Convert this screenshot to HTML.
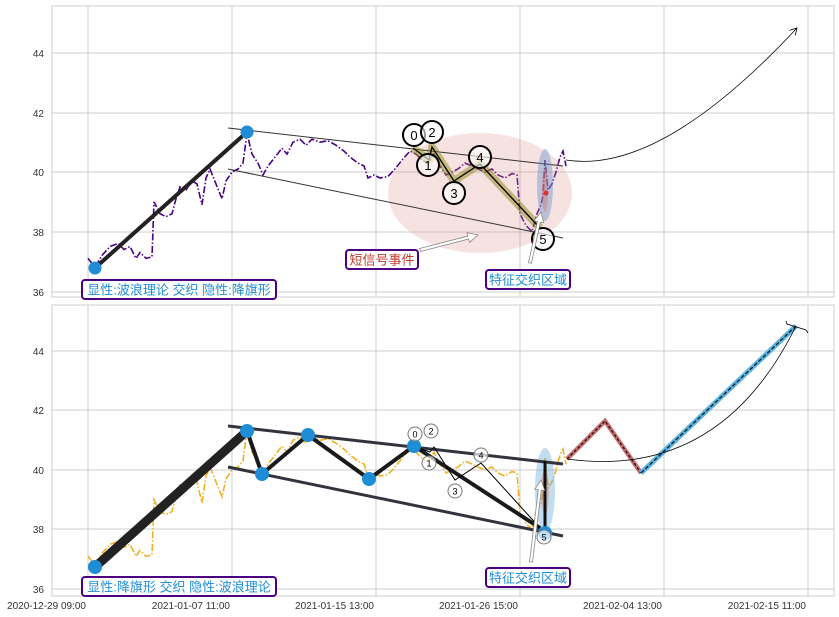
<!DOCTYPE html>
<html><head><meta charset="utf-8"><style>
html,body{margin:0;padding:0;background:#fff;}
svg{display:block;font-family:"Liberation Sans","Noto Sans CJK SC",sans-serif;}
</style></head><body>
<svg id="s" width="839" height="617" viewBox="0 0 839 617" xmlns="http://www.w3.org/2000/svg">
<defs>
<marker id="ah" markerWidth="8" markerHeight="8" refX="7" refY="4" orient="auto" markerUnits="userSpaceOnUse"><path d="M0,0 L7,4 L0,8" fill="none" stroke="#000" stroke-width="0.8"/></marker>
</defs>
<rect width="839" height="617" fill="#fff"/>
<g id="g"></g>
</svg>
<script>
var g=document.getElementById('g');var h='';
function P(x0,y0,x1,y1){return x0+','+y0+' '+x1+','+y1;}
// panels
var panels=[{t:6,b:297,ys:{44:53,42:113,40:172,38:232,36:292}},{t:305,b:596,ys:{44:351,42:410,40:470,38:529,36:589}}];
var gx=[88,232,376,520,664,808];
panels.forEach(function(p){
 h+='<rect x="52" y="'+p.t+'" width="782" height="'+(p.b-p.t)+'" fill="#fff" stroke="#ccc" stroke-width="1"/>';
 gx.forEach(function(x){h+='<line x1="'+x+'" y1="'+p.t+'" x2="'+x+'" y2="'+p.b+'" stroke="#ccc" stroke-width="1"/>';});
 for(var k in p.ys){h+='<line x1="52" y1="'+p.ys[k]+'" x2="834" y2="'+p.ys[k]+'" stroke="#ccc" stroke-width="1"/>';
 h+='<text x="44" y="'+(p.ys[k]+4)+'" font-size="10" text-anchor="end" fill="#333">'+k+'</text>';}
});
var labs=["2020-12-29 09:00","2021-01-07 11:00","2021-01-15 13:00","2021-01-26 15:00","2021-02-04 13:00","2021-02-15 11:00"];
gx.forEach(function(x,i){h+='<text x="'+(x-2)+'" y="609" font-size="10" text-anchor="end" fill="#333">'+labs[i]+'</text>';});
var d=[[88,37.1],[95,36.8],[102,37.2],[110,37.5],[118,37.6],[124,37.4],[130,37.5],[136,37.1],[140,37.3],[146,37.1],[152,37.15],[154,39.0],[160,38.6],[166,38.5],[172,38.6],[176,39.1],[180,39.5],[186,39.4],[192,39.7],[197,39.6],[202,38.9],[206,39.8],[210,40.1],[216,39.6],[222,39.1],[226,39.7],[232,40.0],[238,40.1],[243,40.3],[247,41.3],[252,40.6],[258,40.3],[263,39.9],[268,40.2],[275,40.5],[282,40.8],[287,40.6],[293,41.0],[300,41.1],[306,40.9],[312,41.1],[320,41.0],[328,41.05],[336,40.9],[344,40.7],[350,40.5],[358,40.3],[364,40.2],[368,39.8],[374,39.9],[380,39.8],[388,39.85],[395,40.1],[402,40.4],[410,40.7],[416,40.6],[422,40.4],[428,40.3],[434,40.6],[440,40.2],[446,39.9],[452,40.0],[458,40.1],[465,40.3],[472,40.2],[478,40.1],[485,40.0],[492,40.1],[498,39.9],[505,39.8],[512,39.95],[517,39.9],[520,38.6],[526,38.2],[532,38.0],[537,38.6],[541,38.9],[543,39.2],[545,40.4],[548,39.4],[552,39.6],[556,40.0],[560,40.5],[563,40.7],[566,40.2]];
function ln(arr,f,st){var s=arr.map(function(q){return q[0]+','+f(q[1]).toFixed(1);}).join(' ');return '<polyline points="'+s+'" fill="none" '+st+'/>';}
var ft=function(v){return 172-(v-40)*29.8;}, fb=function(v){return 470-(v-40)*29.75;};
h+=ln(d,ft,'stroke="#4b0082" stroke-width="1.6" stroke-dasharray="7,2,1.5,2"');
h+=ln(d,fb,'stroke="#f0b020" stroke-width="1.6" stroke-dasharray="7,2,1.5,2"');
// TOP
h+='<ellipse cx="480" cy="193" rx="92" ry="60" fill="rgba(225,140,140,0.25)"/>';
h+='<line x1="228" y1="128" x2="563" y2="166" stroke="#333" stroke-width="1"/>';
h+='<line x1="228" y1="169" x2="563" y2="238" stroke="#333" stroke-width="1"/>';
h+='<line x1="95" y1="268" x2="247" y2="132" stroke="#222" stroke-width="4"/>';
h+='<circle cx="95" cy="268" r="6.5" fill="#1f8dd6"/><circle cx="247" cy="132" r="6.5" fill="#1f8dd6"/>';
var w='413,148 429,160 432,147 454,181 480,164 540,228';
h+='<polyline points="'+w+'" fill="none" stroke="rgba(128,128,0,0.45)" stroke-width="8" stroke-linejoin="round"/>';
h+='<polyline points="'+w+'" fill="none" stroke="#000" stroke-width="1.3"/>';
h+='<ellipse cx="545" cy="185" rx="8" ry="36" fill="rgba(90,140,200,0.4)"/><ellipse cx="545" cy="190" rx="3" ry="22" fill="rgba(220,100,80,0.35)"/><circle cx="546" cy="193" r="2.5" fill="#e03030"/>';
[[414,135,'0'],[432,132,'2'],[428,165,'1'],[454,193,'3'],[480,157,'4'],[543,239,'5']].forEach(function(c){
 h+='<circle cx="'+c[0]+'" cy="'+c[1]+'" r="11" fill="#fff" fill-opacity="0.6" stroke="#000" stroke-width="2"/><text x="'+c[0]+'" y="'+(c[1]+5)+'" font-size="13" text-anchor="middle">'+c[2]+'</text>';});
function arrow(x0,y0,x1,y1){var a=Math.atan2(y1-y0,x1-x0),L=Math.hypot(x1-x0,y1-y0);
 return '<g transform="translate('+x0+','+y0+') rotate('+(a*180/Math.PI)+')"><path d="M0,-1.5 L'+(L-10)+',-1.5 L'+(L-10)+',-5 L'+L+',0 L'+(L-10)+',5 L'+(L-10)+',1.5 L0,1.5Z" fill="#fff" stroke="#888" stroke-width="0.8"/></g>';}
h+=arrow(420,250,478,235);h+=arrow(530,263,541,212);
h+='<path d="M566,160 Q660,175 797,28" fill="none" stroke="#000" stroke-width="0.8" marker-end="url(#ah)"/>';
function box(x,y,w,t,c){return '<rect x="'+x+'" y="'+y+'" width="'+w+'" height="19" rx="3" fill="#fff" stroke="#4b0082" stroke-width="2"/><text x="'+(x+w/2)+'" y="'+(y+14.5)+'" font-size="13" text-anchor="middle" fill="'+c+'">'+t+'</text>';}
h+=box(82,280,194,'显性:波浪理论 交织 隐性:降旗形','#1f8dd6');
h+=box(346,250,72,'短信号事件','#c0392b');
h+=box(486,270,84,'特征交织区域','#1f8dd6');
// BOTTOM
h+='<ellipse cx="545" cy="490" rx="10" ry="42" fill="rgba(100,170,220,0.4)"/><ellipse cx="545" cy="492" rx="4" ry="22" fill="rgba(220,110,80,0.35)"/>';
h+='<line x1="228" y1="426" x2="563" y2="464" stroke="#333340" stroke-width="3"/>';
h+='<line x1="228" y1="467" x2="563" y2="536" stroke="#333340" stroke-width="3"/>';
h+='<line x1="95" y1="567" x2="247" y2="431" stroke="#222" stroke-width="9"/>';
h+='<polyline points="247,431 262,474 308,435 369,479 414,446 540,528" fill="none" stroke="#1a1a1a" stroke-width="4" stroke-linejoin="round"/>';
h+='<line x1="545" y1="533" x2="545" y2="461" stroke="#111" stroke-width="3"/>';
h+='<polyline points="415,447 430,452 434,447 455,480 481,463 540,528" fill="none" stroke="#000" stroke-width="1"/>';
[[95,567],[247,431],[262,474],[308,435],[369,479],[414,446],[545,533]].forEach(function(c){h+='<circle cx="'+c[0]+'" cy="'+c[1]+'" r="7" fill="#1f8dd6"/>';});
[[415,434,'0'],[431,431,'2'],[429,463,'1'],[455,491,'3'],[481,455,'4'],[544,537,'5']].forEach(function(c){
 h+='<circle cx="'+c[0]+'" cy="'+c[1]+'" r="7" fill="#fff" fill-opacity="0.7" stroke="#777" stroke-width="1"/><text x="'+c[0]+'" y="'+(c[1]+3.5)+'" font-size="9" text-anchor="middle">'+c[2]+'</text>';});
h+=arrow(531,562,541,480);
h+='<polyline points="567,459 605,421 641,473" fill="none" stroke="#c07070" stroke-width="4.5"/><polyline points="567,459 605,421 641,473" fill="none" stroke="#300" stroke-width="1.2" stroke-dasharray="3,2"/>';
h+='<line x1="641" y1="473" x2="796" y2="326" stroke="#5ab4e0" stroke-width="5"/><line x1="641" y1="473" x2="796" y2="326" stroke="#111" stroke-width="1.2" stroke-dasharray="4,2"/>';
h+='<path d="M567,459 Q720,480 796,326" fill="none" stroke="#000" stroke-width="0.8"/>';
h+='<path d="M786,321 L787,324 L806,330 L808,333" fill="none" stroke="#000" stroke-width="0.8"/>';
h+=box(82,577,194,'显性:降旗形 交织 隐性:波浪理论','#1f8dd6');
h+=box(486,568,84,'特征交织区域','#1f8dd6');
g.innerHTML=h;
</script>
</body></html>
